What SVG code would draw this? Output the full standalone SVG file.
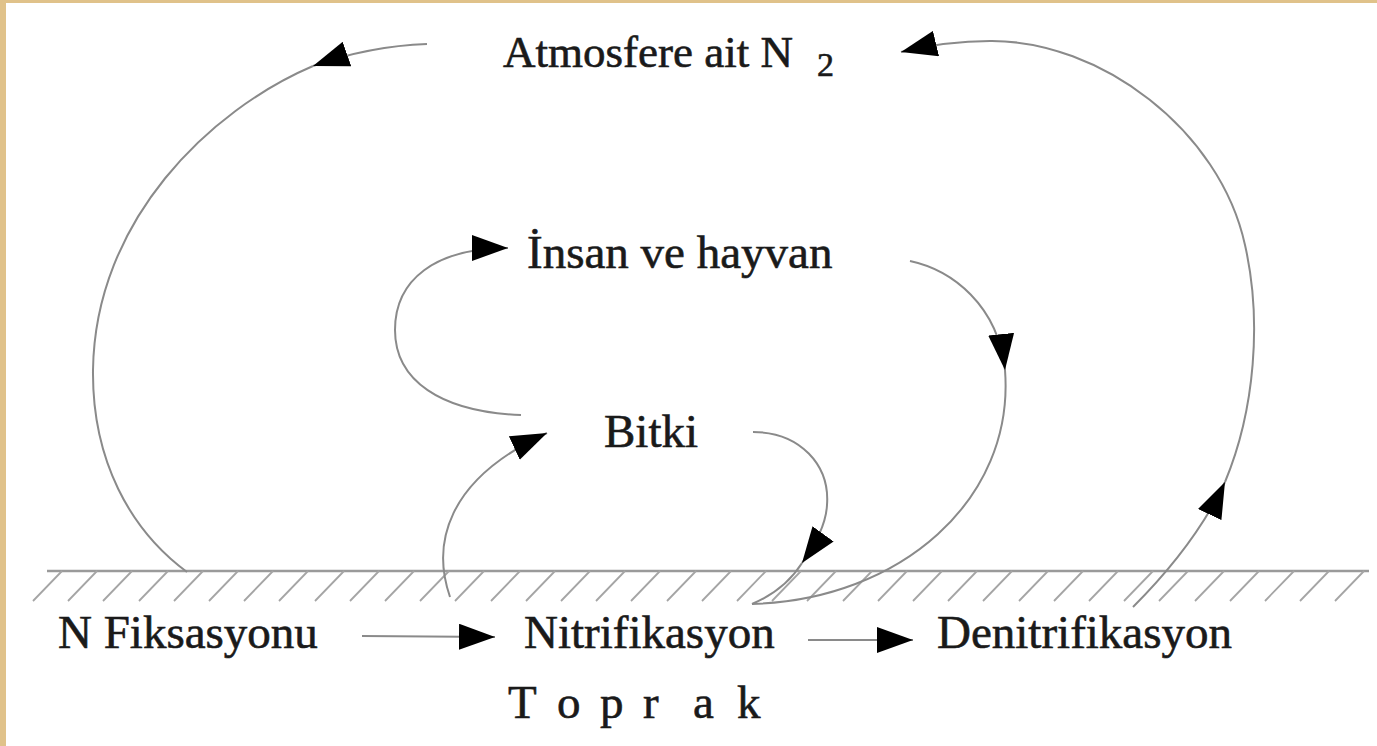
<svg xmlns="http://www.w3.org/2000/svg" width="1377" height="746" viewBox="0 0 1377 746">
  <style>
    .lbl { font-family: "Liberation Serif", "Times New Roman", serif; font-size: 47px; fill: #1a1a1a; stroke: #1a1a1a; stroke-width: 0.6; }
    .sub { font-size: 34px; }
    .flow { fill: none; stroke: #8a8a8a; stroke-width: 2; }
    .ground { fill: none; stroke: #9a9a9a; stroke-width: 2.6; }
    .hatch { fill: none; stroke: #a5a5a5; stroke-width: 1.8; }
  </style>
  <defs>
    <marker id="head" markerUnits="userSpaceOnUse" markerWidth="36" markerHeight="26" refX="36" refY="13" orient="auto">
      <path d="M0,0 L36,13 L0,26 z" fill="#000"/>
    </marker>
  </defs>

  <!-- paper with a tan edge on the top and left -->
  <rect x="0" y="0" width="1377" height="746" fill="#e0c28a"/>
  <rect x="6" y="3" width="1371" height="743" fill="#ffffff"/>

  <!-- soil surface with hatching -->
  <g id="soil">
    <line class="ground" x1="47" y1="571" x2="1369" y2="571"/>
    <g class="hatch">
      <path d="M62,571 l-29,30 M97,571 l-29,30 M132,571 l-29,30 M168,571 l-29,30 M203,571 l-29,30 M238,571 l-29,30 M273,571 l-29,30 M308,571 l-29,30 M344,571 l-29,30 M379,571 l-29,30 M414,571 l-29,30 M449,571 l-29,30 M484,571 l-29,30 M520,571 l-29,30 M555,571 l-29,30 M590,571 l-29,30 M625,571 l-29,30 M660,571 l-29,30 M696,571 l-29,30 M731,571 l-29,30 M766,571 l-29,30 M801,571 l-29,30 M836,571 l-29,30 M872,571 l-29,30 M907,571 l-29,30 M942,571 l-29,30 M977,571 l-29,30 M1012,571 l-29,30 M1048,571 l-29,30 M1083,571 l-29,30 M1118,571 l-29,30 M1153,571 l-29,30 M1188,571 l-29,30 M1224,571 l-29,30 M1259,571 l-29,30 M1294,571 l-29,30 M1329,571 l-29,30 M1364,571 l-29,30"/>
    </g>
  </g>

  <!-- connectors -->
  <g id="connectors">
    <!-- atmosphere down to fixation -->
    <path class="flow" d="M427,44 Q370,46 313,66" marker-end="url(#head)"/>
    <path class="flow" d="M313,66 C210,110 95,220 93,370 C92,460 130,530 187,572"/>
    <!-- denitrification back up to the atmosphere -->
    <path class="flow" d="M1133,607 C1160,580 1200,535 1225,482" marker-end="url(#head)"/>
    <path class="flow" d="M1225,482 C1255,410 1262,320 1245,245 C1220,130 1100,40 990,41 C960,41 930,45 901,52" marker-end="url(#head)"/>
    <!-- plant to humans and animals -->
    <path class="flow" d="M521,415 C440,412 395,380 395,330 C395,280 435,248 508,248" marker-end="url(#head)"/>
    <!-- soil up to plant -->
    <path class="flow" d="M450,597 C432,545 445,480 547,433" marker-end="url(#head)"/>
    <!-- plant down to soil -->
    <path class="flow" d="M753,432 C800,432 830,465 827,505 C826,525 815,545 802,563" marker-end="url(#head)"/>
    <path class="flow" d="M802,563 Q785,590 752,604"/>
    <!-- humans and animals down to soil -->
    <path class="flow" d="M910,261 C952,270 998,305 1005,370" marker-end="url(#head)"/>
    <path class="flow" d="M1005,370 C1015,500 900,600 752,604"/>
    <!-- straight flows in the soil -->
    <line class="flow" x1="362" y1="636" x2="495" y2="637" marker-end="url(#head)"/>
    <line class="flow" x1="808" y1="640" x2="913" y2="640" marker-end="url(#head)"/>
  </g>

  <g id="atmosphere">
    <text class="lbl" x="503" y="67" style="font-size:45px">Atmosfere ait N</text>
    <text class="lbl sub" x="817" y="76">2</text>
  </g>
  <g id="humans">
    <text class="lbl" x="527" y="268">İnsan ve hayvan</text>
  </g>
  <g id="plant">
    <text class="lbl" x="604" y="447">Bitki</text>
  </g>
  <g id="fixation">
    <text class="lbl" x="58" y="648">N Fiksasyonu</text>
  </g>
  <g id="nitrification">
    <text class="lbl" x="524" y="648">Nitrifikasyon</text>
  </g>
  <g id="denitrification">
    <text class="lbl" x="937" y="648">Denitrifikasyon</text>
  </g>
  <g id="soil-label">
    <text class="lbl" x="508 557 600 643 693 737" y="718">Toprak</text>
  </g>
</svg>
